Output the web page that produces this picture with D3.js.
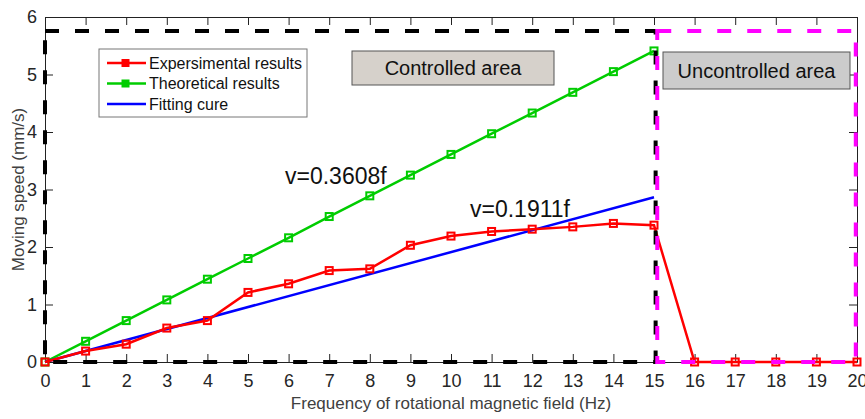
<!DOCTYPE html>
<html>
<head>
<meta charset="utf-8">
<script src="https://cdn.jsdelivr.net/npm/d3@7"></script>
<style>
  body { margin: 0; background: #fff; }
  text { font-family: "Liberation Sans", Arial, sans-serif; }
</style>
</head>
<body>
<div id="chart"></div>
<script>
// data
var freq = [0, 1, 2, 3, 4, 5, 6, 7, 8, 9, 10, 11, 12, 13, 14, 15, 16, 17, 18, 19, 20];
var experimental = [0, 0.19, 0.31, 0.59, 0.72, 1.21, 1.36, 1.59, 1.62, 2.03, 2.19, 2.27, 2.31, 2.35, 2.41, 2.38, 0, 0, 0, 0, 0];
var freqTheory = [0, 1, 2, 3, 4, 5, 6, 7, 8, 9, 10, 11, 12, 13, 14, 15];
var theoretical = [0, 0.36, 0.72, 1.08, 1.44, 1.80, 2.16, 2.53, 2.89, 3.25, 3.61, 3.97, 4.33, 4.69, 5.05, 5.41];
var fitFreq = [0, 15];
var fitSpeed = [0, 2.8665];
var xTicks = [0, 1, 2, 3, 4, 5, 6, 7, 8, 9, 10, 11, 12, 13, 14, 15, 16, 17, 18, 19, 20];
var yTicks = [0, 1, 2, 3, 4, 5, 6];
// region boxes, data units [x0, x1, y0, y1]
var controlledBox = [0, 15.04, 0, 5.755];
var uncontrolledBox = [15.08, 19.97, 0, 5.755];

var width = 865, height = 419;
var margin = { top: 17, right: 8, bottom: 57, left: 45 };

var svg = d3.select("#chart").append("svg")
    .attr("width", width)
    .attr("height", height);

svg.append("rect").attr("width", width).attr("height", height).attr("fill", "#fff");

var x = d3.scaleLinear().domain([0, 20]).range([margin.left, width - margin.right]);
var y = d3.scaleLinear().domain([0, 6]).range([height - margin.bottom, margin.top]);

// axes, ticks pointing inward on all four sides
svg.append("g")
    .attr("transform", "translate(0," + y(0) + ")")
    .call(d3.axisBottom(x).tickValues(xTicks).tickFormat(d3.format("d")).tickSizeInner(-8).tickSizeOuter(0).tickPadding(12));
svg.append("g")
    .attr("transform", "translate(0," + y(6) + ")")
    .call(d3.axisTop(x).tickValues(xTicks).tickSizeInner(-8).tickSizeOuter(0).tickFormat(""));
svg.append("g")
    .attr("transform", "translate(" + x(0) + ",0)")
    .call(d3.axisLeft(y).tickValues(yTicks).tickFormat(d3.format("d")).tickSizeInner(-8).tickSizeOuter(0).tickPadding(8));
svg.append("g")
    .attr("transform", "translate(" + x(20) + ",0)")
    .call(d3.axisRight(y).tickValues(yTicks).tickSizeInner(-8).tickSizeOuter(0).tickFormat(""));

svg.selectAll(".domain").attr("stroke", "#222");
svg.selectAll(".tick line").attr("stroke", "#222");
svg.selectAll(".tick text")
    .attr("font-size", 18)
    .attr("fill", "#262626")
    .style("font-family", "'Liberation Sans', Arial, sans-serif");

// axis titles
svg.append("text")
    .attr("x", (x(0) + x(20)) / 2)
    .attr("y", 409)
    .attr("text-anchor", "middle")
    .attr("font-size", 17)
    .attr("fill", "#404040")
    .text("Frequency of rotational magnetic field (Hz)");
svg.append("text")
    .attr("transform", "translate(24," + y(3) + ") rotate(-90)")
    .attr("text-anchor", "middle")
    .attr("font-size", 17)
    .attr("fill", "#404040")
    .text("Moving speed (mm/s)");

var line = d3.line().x(function (d) { return x(d[0]); }).y(function (d) { return y(d[1]); });

function drawSeries(xs, ys, color, markers) {
    var pts = xs.map(function (d, i) { return [d, ys[i]]; });
    svg.append("path")
        .datum(pts)
        .attr("d", line)
        .attr("fill", "none")
        .attr("stroke", color)
        .attr("stroke-width", 2.5);
    if (markers) {
        svg.append("g").selectAll("rect")
            .data(pts)
            .enter().append("rect")
            .attr("x", function (d) { return x(d[0]) - 3.5; })
            .attr("y", function (d) { return y(d[1]) - 3.5; })
            .attr("width", 7)
            .attr("height", 7)
            .attr("fill", "none")
            .attr("stroke", color)
            .attr("stroke-width", 2);
    }
}

drawSeries(freqTheory, theoretical, "#00cc00", true);
drawSeries(fitFreq, fitSpeed, "#0000ff", false);
drawSeries(freq, experimental, "#ff0000", true);

// dashed region boxes
function dashedBox(b, color) {
    svg.append("rect")
        .attr("x", x(b[0]))
        .attr("y", y(b[3]))
        .attr("width", x(b[1]) - x(b[0]))
        .attr("height", y(b[2]) - y(b[3]))
        .attr("fill", "none")
        .attr("stroke", color)
        .attr("stroke-width", 4)
        .attr("stroke-dasharray", "14,16");
}
dashedBox(controlledBox, "#000");
dashedBox(uncontrolledBox, "#ff00ff");

// region labels
function labelBox(x0, y0, w, h, fill, label) {
    svg.append("rect")
        .attr("x", x0).attr("y", y0).attr("width", w).attr("height", h)
        .attr("fill", fill).attr("stroke", "#555").attr("stroke-width", 1);
    svg.append("text")
        .attr("x", x0 + w / 2).attr("y", y0 + h / 2 + 7)
        .attr("text-anchor", "middle")
        .attr("font-size", 20)
        .attr("fill", "#111")
        .text(label);
}
labelBox(352, 51, 202, 34, "#d6d1cb", "Controlled area");
labelBox(663, 52, 187, 37, "#cccccc", "Uncontrolled area");

// fitted equations
svg.append("text").attr("x", 285).attr("y", 184).attr("font-size", 23).attr("fill", "#111").text("v=0.3608f");
svg.append("text").attr("x", 470).attr("y", 217).attr("font-size", 23).attr("fill", "#111").text("v=0.1911f");

// legend
var legendItems = [
    { name: "Expersimental results", color: "#ff0000", marker: true },
    { name: "Theoretical results", color: "#00cc00", marker: true },
    { name: "Fitting cure", color: "#0000ff", marker: false }
];
var legend = svg.append("g");
legend.append("rect")
    .attr("x", 99).attr("y", 49).attr("width", 208).attr("height", 68)
    .attr("fill", "#fff").attr("stroke", "#777").attr("stroke-width", 1);
legendItems.forEach(function (d, i) {
    var ly = 63 + i * 20.5;
    legend.append("line")
        .attr("x1", 107).attr("x2", 146).attr("y1", ly).attr("y2", ly)
        .attr("stroke", d.color).attr("stroke-width", 2.5);
    if (d.marker) {
        legend.append("rect")
            .attr("x", 122).attr("y", ly - 3.5).attr("width", 7).attr("height", 7)
            .attr("fill", d.color).attr("stroke", d.color);
    }
    legend.append("text")
        .attr("x", 149).attr("y", ly + 5.5)
        .attr("font-size", 16)
        .attr("fill", "#111")
        .text(d.name);
});
</script>
</body>
</html>
